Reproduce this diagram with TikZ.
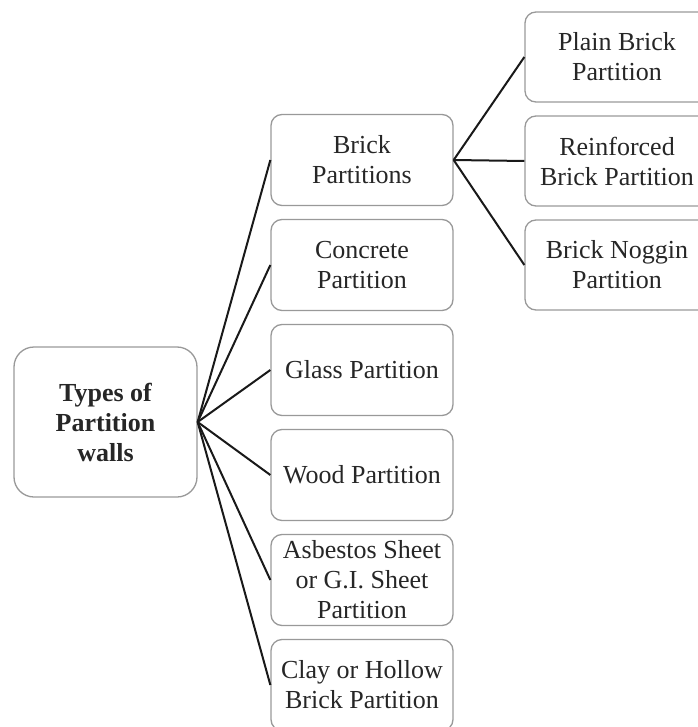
\documentclass[tikz,border=0pt]{standalone}
\usepackage{fontspec}
\setmainfont{Liberation Serif}
\usepackage{tikz}
\usetikzlibrary{positioning}

\begin{document}
\begin{tikzpicture}[x=1pt, y=-1pt, font=\fontsize{26pt}{30pt}\selectfont,
		box/.style={draw=black!40, line width=1.3pt, rounded corners=11pt, align=center, text=black!85, minimum width=182pt, minimum height=91pt, inner sep=0pt},
		link/.style={draw, line width=2pt, black!90}]
		\useasboundingbox (0, 0) rectangle (697, 727);
		\node [box, rounded corners=20pt, minimum width=183pt, minimum height=150pt, font=\fontsize{26pt}{30pt}\selectfont\bfseries] (types) at (105.5, 422) {Types of\\Partition\\walls};
		\node [box] (brick) at (362, 160) {Brick\\Partitions};
		\node [box] (concrete) at (362, 265) {Concrete\\Partition};
		\node [box] (glass) at (362, 370) {Glass Partition};
		\node [box] (wood) at (362, 475) {Wood Partition};
		\node [box] (asbestos) at (362, 580) {Asbestos Sheet\\or G.I. Sheet\\Partition};
		\node [box] (clay) at (362, 685) {Clay or Hollow\\Brick Partition};
		\node [box, minimum width=184pt, minimum height=90pt] (plain) at (617, 57) {Plain Brick\\Partition};
		\node [box, minimum width=184pt, minimum height=90pt] (reinforced) at (617, 161) {Reinforced\\Brick Partition};
		\node [box, minimum width=184pt, minimum height=90pt] (noggin) at (617, 265) {Brick Noggin\\Partition};
		\path [link] (types.east) -- (brick.west);
		\path [link] (types.east) -- (concrete.west);
		\path [link] (types.east) -- (glass.west);
		\path [link] (types.east) -- (wood.west);
		\path [link] (types.east) -- (asbestos.west);
		\path [link] (types.east) -- (clay.west);
		\path [link] (brick.east) -- (plain.west);
		\path [link] (brick.east) -- (reinforced.west);
		\path [link] (brick.east) -- (noggin.west);
	\end{tikzpicture}
\end{document}
